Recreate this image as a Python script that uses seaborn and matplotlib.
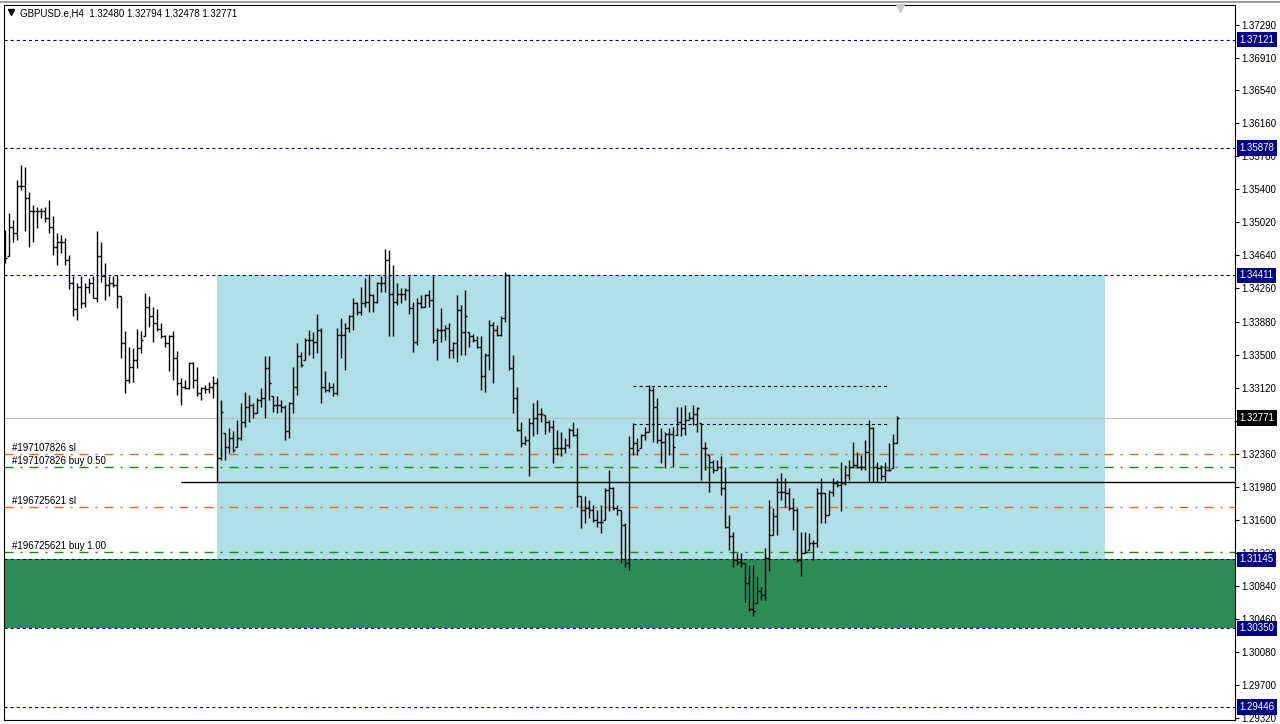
import numpy as np
import matplotlib
matplotlib.use("Agg")
import matplotlib.pyplot as plt
import matplotlib.transforms as mtransforms
from matplotlib.lines import Line2D
import seaborn as sns

# ---------------- data (GBPUSD.e, H4) ----------------
opens = [
    1.3470, 1.3461, 1.3497, 1.3490, 1.3544, 1.3544, 1.3530, 1.3515, 1.3515, 1.3515,
    1.3515, 1.3507, 1.3497, 1.3474, 1.3480, 1.3480, 1.3459, 1.3432, 1.3402, 1.3428,
    1.3409, 1.3428, 1.3432, 1.3415, 1.3463, 1.3440, 1.3430, 1.3432, 1.3430, 1.3417,
    1.3363, 1.3321, 1.3336, 1.3344, 1.3357, 1.3367, 1.3405, 1.3394, 1.3386, 1.3379,
    1.3371, 1.3363, 1.3371, 1.3346, 1.3317, 1.3313, 1.3312, 1.3340, 1.3321, 1.3306,
    1.3312, 1.3310, 1.3313,
    1.3317, 1.3231, 1.3284, 1.3244, 1.3254, 1.3240, 1.3254,
    1.3273, 1.3290, 1.3292, 1.3283, 1.3298, 1.3300, 1.3334, 1.3317, 1.3292, 1.3292,
    1.3290, 1.3262, 1.3294, 1.3313, 1.3348, 1.3338, 1.3367, 1.3367, 1.3365, 1.3378,
    1.3313, 1.3309, 1.3313, 1.3306, 1.3373, 1.3373, 1.3380, 1.3394, 1.3409, 1.3399,
    1.3409, 1.3411, 1.3419, 1.3411, 1.3432, 1.3432, 1.3459, 1.3420, 1.3411, 1.3420,
    1.3420, 1.3424, 1.3403, 1.3365, 1.3409, 1.3405, 1.3419, 1.3413, 1.3367, 1.3378,
    1.3378, 1.3380, 1.3355, 1.3363, 1.3401, 1.3376, 1.3394, 1.3371, 1.3367, 1.3359,
    1.3325, 1.3350, 1.3384, 1.3378, 1.3373, 1.3392, 1.3442, 1.3334, 1.3300, 1.3263,
    1.3248, 1.3252, 1.3271, 1.3277, 1.3282, 1.3282, 1.3273, 1.3267, 1.3242, 1.3242,
    1.3242, 1.3246, 1.3263, 1.3258, 1.3187, 1.3171, 1.3173, 1.3171, 1.3160, 1.3158,
    1.3158, 1.3194, 1.3196, 1.3173, 1.3171, 1.3154, 1.3110, 1.3242, 1.3248, 1.3240,
    1.3258, 1.3261, 1.3309, 1.3290, 1.3252, 1.3250, 1.3259, 1.3259, 1.3244, 1.3273,
    1.3265, 1.3275, 1.3277, 1.3282, 1.3288, 1.3242, 1.3242, 1.3227, 1.3217, 1.3221,
    1.3196, 1.3152, 1.3141, 1.3114, 1.3112, 1.3110, 1.3087, 1.3057, 1.3055, 1.3078,
    1.3074, 1.3116, 1.3143, 1.3164, 1.3192, 1.3192, 1.3191, 1.3173, 1.3171, 1.3114,
    1.3122, 1.3123, 1.3133, 1.3133, 1.3191, 1.3191, 1.3166, 1.3192, 1.3202, 1.3200,
    1.3202, 1.3212, 1.3221, 1.3223, 1.3221, 1.3221, 1.3238, 1.3265, 1.3221, 1.3219,
    1.3210, 1.3217, 1.3217, 1.32480,
]
highs = [
    1.3493, 1.3513, 1.3505, 1.3551, 1.3568, 1.3566, 1.3537, 1.3522, 1.3520, 1.3518,
    1.3520, 1.3528, 1.3509, 1.3490, 1.3488, 1.3484, 1.3465, 1.3440, 1.3432, 1.3440,
    1.3432, 1.3438, 1.3440, 1.3492, 1.3480, 1.3455, 1.3440, 1.3440, 1.3442, 1.3417,
    1.3377, 1.3359, 1.3357, 1.3379, 1.3377, 1.3421, 1.3417, 1.3405, 1.3402, 1.3386,
    1.3373, 1.3373, 1.3377, 1.3354, 1.3323, 1.3321, 1.3342, 1.3342, 1.3336, 1.3313,
    1.3315, 1.3319, 1.3325,
    1.3323, 1.3298, 1.3260, 1.3265, 1.3262, 1.3275, 1.3294,
    1.3307, 1.3304, 1.3294, 1.3300, 1.3311, 1.3348, 1.3348, 1.3302, 1.3302, 1.3298,
    1.3292, 1.3296, 1.3336, 1.3363, 1.3353, 1.3369, 1.3378, 1.3376, 1.3397, 1.3380,
    1.3331, 1.3319, 1.3317, 1.3380, 1.3392, 1.3386, 1.3396, 1.3415, 1.3411, 1.3428,
    1.3438, 1.3443, 1.3420, 1.3434, 1.3440, 1.3471, 1.3470, 1.3453, 1.3432, 1.3426,
    1.3426, 1.3440, 1.3411, 1.3415, 1.3419, 1.3420, 1.3424, 1.3440, 1.3380, 1.3403,
    1.3384, 1.3386, 1.3365, 1.3419, 1.3407, 1.3424, 1.3376, 1.3374, 1.3371, 1.3371,
    1.3352, 1.3390, 1.3388, 1.3384, 1.3394, 1.3445, 1.3443, 1.3350, 1.3313, 1.3273,
    1.3256, 1.3277, 1.3294, 1.3298, 1.3288, 1.3281, 1.3275, 1.3275, 1.3263, 1.3261,
    1.3254, 1.3265, 1.3273, 1.3265, 1.3187, 1.3187, 1.3183, 1.3177, 1.3171, 1.3177,
    1.3196, 1.3217, 1.3198, 1.3177, 1.3171, 1.3156, 1.3256, 1.3271, 1.3254, 1.3259,
    1.3267, 1.3315, 1.3313, 1.3300, 1.3265, 1.3261, 1.3265, 1.3267, 1.3290, 1.3290,
    1.3292, 1.3284, 1.3292, 1.3290, 1.3271, 1.3250, 1.3234, 1.3229, 1.3229, 1.3233,
    1.3221, 1.3166, 1.3146, 1.3122, 1.3122, 1.3110, 1.3108, 1.3108, 1.3095, 1.3083,
    1.3127, 1.3183, 1.3173, 1.3208, 1.3214, 1.3208, 1.3196, 1.3185, 1.3173, 1.3146,
    1.3146, 1.3145, 1.3137, 1.3196, 1.3208, 1.3191, 1.3194, 1.3208, 1.3206, 1.3227,
    1.3223, 1.3229, 1.3250, 1.3238, 1.3234, 1.3252, 1.3275, 1.3267, 1.3227, 1.3223,
    1.3227, 1.3248, 1.3259, 1.32794,
]
lows = [
    1.3455, 1.3463, 1.3480, 1.3482, 1.3539, 1.3492, 1.3474, 1.3480, 1.3495, 1.3507,
    1.3503, 1.3490, 1.3465, 1.3453, 1.3467, 1.3453, 1.3425, 1.3394, 1.3390, 1.3403,
    1.3405, 1.3421, 1.3415, 1.3411, 1.3434, 1.3413, 1.3417, 1.3428, 1.3403, 1.3346,
    1.3306, 1.3317, 1.3319, 1.3334, 1.3352, 1.3371, 1.3382, 1.3365, 1.3377, 1.3369,
    1.3359, 1.3331, 1.3321, 1.3304, 1.3292, 1.3310, 1.3310, 1.3312, 1.3302, 1.3298,
    1.3306, 1.3306, 1.3300,
    1.3204, 1.3229, 1.3229, 1.3237, 1.3238, 1.3244, 1.3252,
    1.3267, 1.3273, 1.3277, 1.3283, 1.3290, 1.3277, 1.3298, 1.3284, 1.3283, 1.3284,
    1.3252, 1.3254, 1.3283, 1.3304, 1.3336, 1.3344, 1.3350, 1.3346, 1.3352, 1.3294,
    1.3307, 1.3307, 1.3302, 1.3304, 1.3346, 1.3332, 1.3376, 1.3378, 1.3396, 1.3396,
    1.3405, 1.3399, 1.3399, 1.3409, 1.3422, 1.3422, 1.3371, 1.3371, 1.3407, 1.3409,
    1.3413, 1.3397, 1.3353, 1.3361, 1.3403, 1.3405, 1.3405, 1.3363, 1.3344, 1.3365,
    1.3367, 1.3346, 1.3346, 1.3342, 1.3350, 1.3350, 1.3359, 1.3365, 1.3357, 1.3309,
    1.3307, 1.3332, 1.3317, 1.3371, 1.3371, 1.3388, 1.3332, 1.3283, 1.3262, 1.3244,
    1.3246, 1.3210, 1.3256, 1.3259, 1.3273, 1.3259, 1.3261, 1.3225, 1.3235, 1.3233,
    1.3237, 1.3242, 1.3256, 1.3175, 1.3150, 1.3156, 1.3162, 1.3158, 1.3152, 1.3145,
    1.3160, 1.3170, 1.3171, 1.3166, 1.3110, 1.3106, 1.3102, 1.3235, 1.3235, 1.3242,
    1.3252, 1.3261, 1.3250, 1.3248, 1.3225, 1.3219, 1.3235, 1.3221, 1.3258, 1.3256,
    1.3258, 1.3275, 1.3269, 1.3261, 1.3206, 1.3217, 1.3192, 1.3214, 1.3217, 1.3189,
    1.3150, 1.3125, 1.3106, 1.3108, 1.3106, 1.3066, 1.3055, 1.3049, 1.3064, 1.3068,
    1.3068, 1.3101, 1.3143, 1.3143, 1.3183, 1.3175, 1.3171, 1.3148, 1.3112, 1.3095,
    1.3122, 1.3125, 1.3114, 1.3129, 1.3156, 1.3156, 1.3166, 1.3187, 1.3198, 1.3170,
    1.3200, 1.3206, 1.3219, 1.3219, 1.3217, 1.3217, 1.3204, 1.3204, 1.3204, 1.3206,
    1.3204, 1.3216, 1.3219, 1.32478,
]
closes = [
    1.3461, 1.3497, 1.3490, 1.3544, 1.3544, 1.3530, 1.3515, 1.3515, 1.3515, 1.3515,
    1.3507, 1.3497, 1.3474, 1.3480, 1.3480, 1.3459, 1.3432, 1.3402, 1.3428, 1.3409,
    1.3428, 1.3432, 1.3415, 1.3463, 1.3440, 1.3430, 1.3432, 1.3430, 1.3417, 1.3363,
    1.3321, 1.3336, 1.3344, 1.3357, 1.3367, 1.3405, 1.3394, 1.3386, 1.3379, 1.3371,
    1.3363, 1.3371, 1.3346, 1.3317, 1.3313, 1.3312, 1.3340, 1.3321, 1.3306, 1.3312,
    1.3310, 1.3313, 1.3317,
    1.3231, 1.3284, 1.3244, 1.3254, 1.3240, 1.3254, 1.3273,
    1.3290, 1.3292, 1.3283, 1.3298, 1.3300, 1.3334, 1.3317, 1.3292, 1.3292, 1.3290,
    1.3262, 1.3294, 1.3313, 1.3348, 1.3338, 1.3367, 1.3367, 1.3365, 1.3378, 1.3313,
    1.3309, 1.3313, 1.3306, 1.3373, 1.3373, 1.3380, 1.3394, 1.3409, 1.3399, 1.3409,
    1.3411, 1.3419, 1.3411, 1.3432, 1.3432, 1.3459, 1.3420, 1.3411, 1.3420, 1.3420,
    1.3424, 1.3403, 1.3365, 1.3409, 1.3405, 1.3419, 1.3413, 1.3367, 1.3378, 1.3378,
    1.3380, 1.3355, 1.3363, 1.3401, 1.3376, 1.3394, 1.3371, 1.3367, 1.3359, 1.3325,
    1.3350, 1.3384, 1.3378, 1.3373, 1.3392, 1.3442, 1.3334, 1.3300, 1.3263, 1.3248,
    1.3252, 1.3271, 1.3277, 1.3282, 1.3282, 1.3273, 1.3267, 1.3242, 1.3242, 1.3242,
    1.3246, 1.3263, 1.3258, 1.3187, 1.3171, 1.3173, 1.3171, 1.3160, 1.3158, 1.3158,
    1.3194, 1.3196, 1.3173, 1.3171, 1.3154, 1.3110, 1.3242, 1.3248, 1.3240, 1.3258,
    1.3261, 1.3309, 1.3290, 1.3252, 1.3250, 1.3259, 1.3259, 1.3244, 1.3273, 1.3265,
    1.3275, 1.3277, 1.3282, 1.3288, 1.3242, 1.3242, 1.3227, 1.3217, 1.3221, 1.3196,
    1.3152, 1.3141, 1.3114, 1.3112, 1.3110, 1.3087, 1.3057, 1.3055, 1.3078, 1.3074,
    1.3116, 1.3143, 1.3164, 1.3192, 1.3192, 1.3191, 1.3173, 1.3171, 1.3114, 1.3122,
    1.3123, 1.3133, 1.3133, 1.3191, 1.3191, 1.3166, 1.3192, 1.3202, 1.3200, 1.3202,
    1.3212, 1.3221, 1.3223, 1.3221, 1.3221, 1.3238, 1.3265, 1.3221, 1.3219, 1.3210,
    1.3217, 1.3217, 1.3248, 1.32771,
]

tick_values = [1.37290, 1.36910, 1.36540, 1.36160, 1.35780, 1.35400, 1.35020,
               1.34640, 1.34260, 1.33880, 1.33500, 1.33120, 1.32740, 1.32360,
               1.31980, 1.31600, 1.31220, 1.30840, 1.30460, 1.30080, 1.29700,
               1.29320]
# 1.32740 lies fully hidden behind the current-price box in the reference
tick_labels = ["1.37290", "1.36910", "1.36540", "1.36160", "1.35780", "1.35400",
               "1.35020", "1.34640", "1.34260", "1.33880", "1.33500", "1.33120",
               "", "1.32360", "1.31980", "1.31600", "1.31220", "1.30840",
               "1.30460", "1.30080", "1.29700", "1.29320"]

level_values = [1.37121, 1.35878, 1.34411, 1.31145, 1.30350, 1.29446]
level_labels = ["1.37121", "1.35878", "1.34411", "1.31145", "1.30350", "1.29446"]

current_price = 1.32771
current_label = "1.32771"

order_names = ["#197107826 sl", "#197107826 buy 0.50", "#196725621 sl", "#196725621 buy 1.00"]
order_prices = [1.32357, 1.32207, 1.31747, 1.31230]
order_kinds = ["sl", "buy", "sl", "buy"]

zone_blue = (53.0, 275.0, 1.31145, 1.34411)     # bar-from, bar-to, low, high
zone_green = (1.30350, 1.31145)
hline_black = (44.0, 1.32035)
dotted_levels = [1.33139, 1.32702]
dotted_span = (157.0, 220.75)

title = "GBPUSD.e,H4  1.32480 1.32794 1.32478 1.32771"

# ---------------- style ----------------
sns.set_theme(style="white")
plt.rcParams['font.family'] = ['Liberation Sans', 'DejaVu Sans']
plt.rcParams['lines.scale_dashes'] = False

W, H = 1280, 724
fig = plt.figure(figsize=(W / 100, H / 100), dpi=100)
fig.patch.set_facecolor('white')
ax = fig.add_axes([4 / W, 1 - 720 / H, (1235 - 4) / W, (720 - 5) / H])
ax.set_facecolor('white')
ax.set_xlim(-0.25, 307.5)
ax.set_ylim(1.292975, 1.3752)

x = np.arange(len(closes))
o = np.clip(np.array(opens), np.array(lows), np.array(highs))

NAVY = '#000080'
ORANGE = '#E8642C'
GREEN = '#198719'

# zones
ax.fill_between([zone_blue[0], zone_blue[1]], zone_blue[2], zone_blue[3],
                color='#B0E0E6', lw=0, zorder=0.5)
ax.axhspan(zone_green[0], zone_green[1], color='#2E8B57', lw=0, zorder=0.6)

# navy dashed levels
for lv in level_values:
    ax.axhline(lv, color=NAVY, lw=0.8, ls=(0, (2.2, 2.2)), zorder=1)

# current price line
ax.axhline(current_price, color='#C0C0C0', lw=0.8, zorder=1)

# order lines
for name, pr, kind in zip(order_names, order_prices, order_kinds):
    col = ORANGE if kind == "sl" else GREEN
    ax.axhline(pr, color=col, lw=1.0, ls=(0, (6.5, 5, 1.5, 5)), zorder=1.2)
    ax.text(1.75, pr + 0.00012, name, fontsize=7, color='black',
            ha='left', va='bottom', zorder=5)

# black horizontal line and dotted lines
ax.hlines(hline_black[1], hline_black[0], 307.5, color='black', lw=1.0, zorder=1.3)
for lv in dotted_levels:
    ax.hlines(lv, dotted_span[0], dotted_span[1], color='black', lw=0.8,
              ls=(0, (2.2, 2.2)), zorder=1.3)

# OHLC bars
ax.vlines(x, lows, highs, color='black', lw=1.0, zorder=3)
ax.hlines(o, x - 0.45, x, color='black', lw=1.0, zorder=3)
ax.hlines(closes, x, x + 0.45, color='black', lw=1.0, zorder=3)

# chart shift marker
ax.plot([223.75], [1.3749], marker='v', color='#C8C8C8', ms=6, clip_on=False, zorder=6)

# axes / ticks
for s in ax.spines.values():
    s.set_color('black')
    s.set_linewidth(0.8)
ax.yaxis.tick_right()
ax.set_yticks(tick_values)
ax.set_yticklabels(tick_labels)
ax.tick_params(axis='y', direction='out', length=3, width=0.8, pad=1.5,
               labelsize=7, colors='black', right=True, left=False)
ax.tick_params(axis='x', bottom=False, labelbottom=False)
ax.grid(False)

trans = mtransforms.blended_transform_factory(ax.transAxes, ax.transData)
box_x = (1239.5 - 4) / 1231
for lv, lb in zip(level_values, level_labels):
    ax.text(box_x, lv, lb, transform=trans, fontsize=7, color='white',
            ha='left', va='center', clip_on=False, zorder=10,
            bbox=dict(boxstyle='square,pad=0.28', fc=NAVY, ec='none'))
ax.text(box_x, current_price, current_label, transform=trans, fontsize=7,
        color='white', ha='left', va='center', clip_on=False, zorder=10,
        bbox=dict(boxstyle='square,pad=0.28', fc='black', ec='none'))

# title
fig.text(20 / W, 1 - 13 / H, title, fontsize=7, color='black', ha='left', va='center')
fig.add_artist(Line2D([11 / W], [1 - 12 / H], marker='v', color='black', ms=4,
                      transform=fig.transFigure))
fig.add_artist(Line2D([0, 1], [1 - 1.5 / H, 1 - 1.5 / H], color='#A0A0A0', lw=1.5,
                      transform=fig.transFigure))

fig.savefig('out.png', dpi=100, facecolor='white')
